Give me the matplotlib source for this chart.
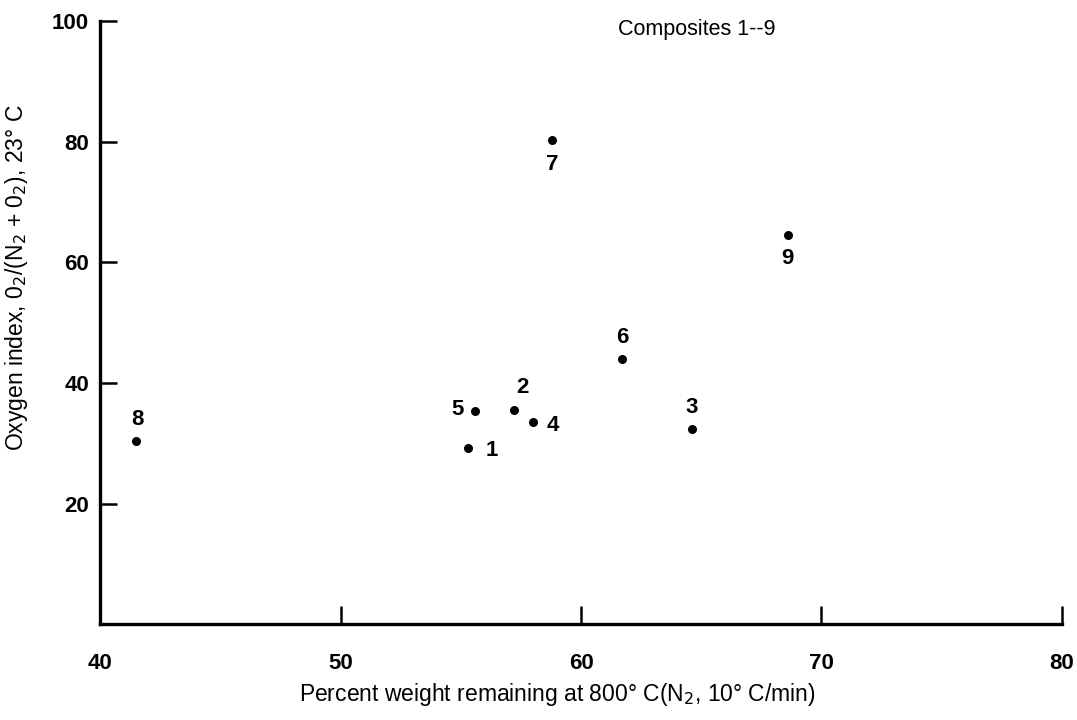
import matplotlib
matplotlib.use("Agg")
import matplotlib.pyplot as plt

plt.rcParams['font.family'] = ['Liberation Sans', 'DejaVu Sans']

# Composite number, weight remaining (%), oxygen index
composites = ['1', '2', '3', '4', '5', '6', '7', '8', '9']
weight_remaining = [55.3, 57.2, 64.6, 58.0, 55.6, 61.7, 58.8, 41.5, 68.6]
oxygen_index = [29.2, 35.5, 32.4, 33.6, 35.4, 43.9, 80.3, 30.4, 64.5]

x_ticks = [40, 50, 60, 70, 80]
y_ticks = [20, 40, 60, 80, 100]

# label offsets (points) relative to each dot
label_offsets = {
    '1': (17, -2), '2': (6, 16), '3': (0, 15), '4': (14, -3), '5': (-13, 1),
    '6': (0, 16), '7': (0, -18), '8': (1, 15), '9': (0, -17),
}

fig = plt.figure(figsize=(10.77, 7.2), dpi=100)
ax = fig.add_axes([0.093, 0.133, 0.893, 0.838])

ax.scatter(weight_remaining, oxygen_index, s=30, color='black', zorder=3)
for name, xv, yv in zip(composites, weight_remaining, oxygen_index):
    dx, dy = label_offsets[name]
    ax.annotate(name, (xv, yv), xytext=(dx, dy), textcoords='offset points',
                ha='center', va='center', fontsize=16, fontweight='bold')

ax.set_xlim(40, 80)
ax.set_ylim(0, 100)
ax.set_xticks(x_ticks)
ax.set_yticks(y_ticks)
ax.set_xticklabels([str(t) for t in x_ticks], fontsize=16, fontweight='bold')
ax.set_yticklabels([str(t) for t in y_ticks], fontsize=16, fontweight='bold')
ax.tick_params(axis='x', direction='in', length=13, width=1.8, pad=21)
ax.tick_params(axis='y', direction='in', length=12, width=1.8, pad=8)

for side in ['top', 'right']:
    ax.spines[side].set_visible(False)
for side in ['left', 'bottom']:
    ax.spines[side].set_linewidth(2.4)

ax.set_xlabel('Percent weight remaining at 800° C(N$_2$, 10° C/min)', fontsize=16.5)
ax.set_ylabel('Oxygen index, 0$_2$/(N$_2$ + 0$_2$), 23° C', fontsize=16.5)
ax.xaxis.set_label_coords(0.475, -0.094)
ax.yaxis.set_label_coords(-0.073, 0.575)

ax.text(0.62, 0.985, 'Composites 1--9', transform=ax.transAxes,
        ha='center', va='center', fontsize=15.5)

fig.savefig('out.png', dpi=100)
